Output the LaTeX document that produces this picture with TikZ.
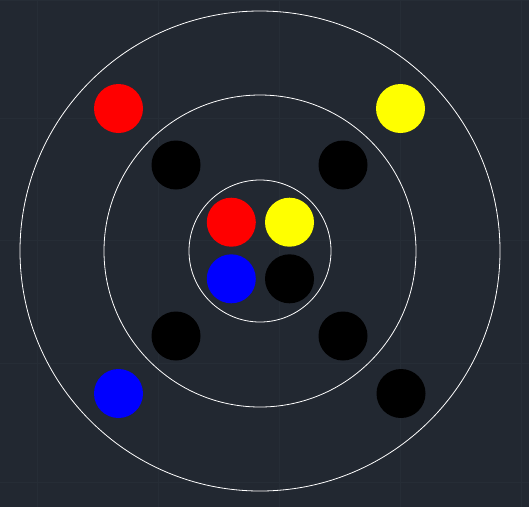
\documentclass[tikz,border=0pt]{standalone}
\definecolor{bg}{HTML}{222831}
\definecolor{gridc}{HTML}{262D36}
\definecolor{dred}{HTML}{FF0000}
\definecolor{dyel}{HTML}{FFFF00}
\definecolor{dblue}{HTML}{0000FF}
\tikzset{
  ring/.style={circle, draw=white, line width=0.8pt, inner sep=0pt, minimum size=#1},
  dot/.style={circle, fill=#1, draw=none, inner sep=0pt, minimum size=49pt},
}
\begin{document}
\begin{tikzpicture}[x=1pt,y=-1pt]
\fill[bg] (0,0) rectangle (529,507);
\useasboundingbox (0,0) rectangle (529,507);
\foreach \gx in {37,158,279,400,521} \draw[gridc, line width=0.8pt] (\gx,0) -- (\gx,507);
\foreach \gy in {0,118,240,363,482} \draw[gridc, line width=0.8pt] (0,\gy) -- (529,\gy);
\node[ring=480pt] (outer) at (260,251) {};
\node[ring=312pt] (middle) at (260,251) {};
\node[ring=142pt] (inner) at (260,251) {};
\node[dot=dred] (r1) at (118.5,108.5) {};
\node[dot=dyel] (y1) at (400.5,108.5) {};
\node[dot=dblue] (b1) at (118.5,393.5) {};
\node[dot=black] (k1) at (401,393.5) {};
\node[dot=black] (k2) at (176,165) {};
\node[dot=black] (k3) at (343,165) {};
\node[dot=black] (k4) at (176,336) {};
\node[dot=black] (k5) at (343,336) {};
\node[dot=dred] (r2) at (231.3,222.2) {};
\node[dot=dyel] (y2) at (289.5,222.2) {};
\node[dot=dblue] (b2) at (231.3,278.8) {};
\node[dot=black] (k6) at (289.5,278.8) {};
\end{tikzpicture}
\end{document}
